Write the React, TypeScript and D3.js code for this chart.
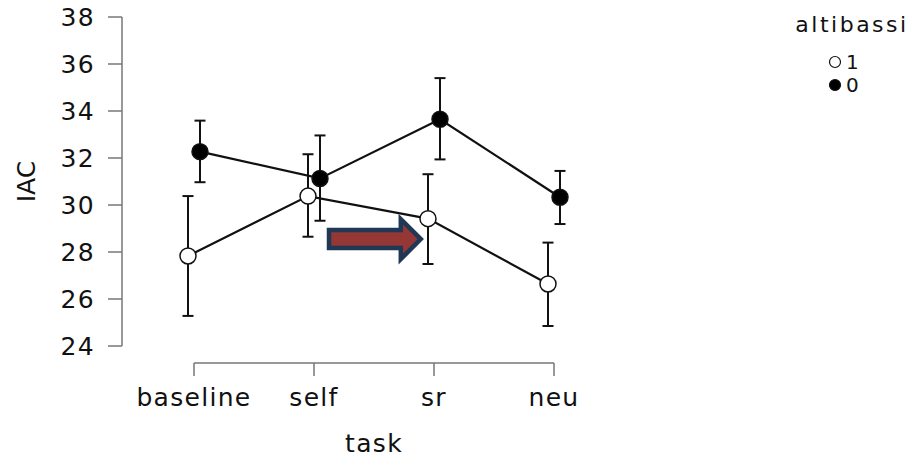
import React from "react";
import * as d3 from "d3";

const tasks = ["baseline", "self", "sr", "neu"];
const yTicks = [24, 26, 28, 30, 32, 34, 36, 38];
const groupLabels = ["1", "0"];
// altibassi = 1 (open)
const mean1 = [27.83, 30.38, 29.42, 26.64];
const lo1 = [25.28, 28.65, 27.49, 24.85];
const hi1 = [30.38, 32.16, 31.31, 28.4];
// altibassi = 0 (filled)
const mean0 = [32.27, 31.13, 33.65, 30.33];
const lo0 = [30.97, 29.33, 31.94, 29.19];
const hi0 = [33.59, 32.96, 35.4, 31.45];
// annotation arrow (task index units, IAC units)
const arrowFrom = 1.125;
const arrowTo = 1.89;
const arrowY = 28.55;

const FONT = "'DejaVu Sans', sans-serif";

export default function App() {
  const W = 914, H = 459;
  const x = d3.scaleLinear().domain([0, 3]).range([194, 554]);
  const y = d3.scaleLinear().domain([24, 38]).range([346, 17]);
  const dodge = 6;

  const series = [
    { name: groupLabels[0], mean: mean1, lo: lo1, hi: hi1, fill: "#fff", off: -dodge },
    { name: groupLabels[1], mean: mean0, lo: lo0, hi: hi0, fill: "#000", off: dodge },
  ];

  const line = d3.line<number>().x((_, i) => x(i)).y((d) => y(d));

  const ax0 = x(arrowFrom), ax1 = x(arrowTo), ay = y(arrowY);
  const headLen = 20, bodyH = 9, headH = 20;
  const arrowPts = [
    [ax0, ay - bodyH], [ax1 - headLen, ay - bodyH], [ax1 - headLen, ay - headH],
    [ax1, ay], [ax1 - headLen, ay + headH], [ax1 - headLen, ay + bodyH], [ax0, ay + bodyH],
  ];

  const axisColor = "#777";
  const textColor = "#111";

  return (
    <svg width={W} height={H} style={{ position: "absolute", left: 0, top: 0, background: "#fff" }}
      fontFamily={FONT}>
      {/* y axis */}
      <line x1={122} x2={122} y1={y(38)} y2={y(24)} stroke={axisColor} strokeWidth={1.5} />
      {yTicks.map((t) => (
        <g key={t}>
          <line x1={108} x2={122} y1={y(t)} y2={y(t)} stroke={axisColor} strokeWidth={1.5} />
          <text x={95} y={y(t)} dy="0.36em" textAnchor="end" fontSize={25} letterSpacing={1.3} fill={textColor}>{t}</text>
        </g>
      ))}
      <text transform={`translate(35,${y(31)}) rotate(-90)`} textAnchor="middle" fontSize={25} fill={textColor}>IAC</text>

      {/* x axis */}
      <line x1={x(0)} x2={x(3)} y1={363} y2={363} stroke={axisColor} strokeWidth={1.5} />
      {tasks.map((t, i) => (
        <g key={t}>
          <line x1={x(i)} x2={x(i)} y1={363} y2={376} stroke={axisColor} strokeWidth={1.5} />
          <text x={x(i)} y={406} textAnchor="middle" fontSize={25} letterSpacing={1.3} fill={textColor}>{t}</text>
        </g>
      ))}
      <text x={374} y={452} textAnchor="middle" fontSize={25} letterSpacing={1.3} fill={textColor}>task</text>

      {/* series */}
      {series.map((s) => (
        <g key={s.name} transform={`translate(${s.off},0)`}>
          <path d={line(s.mean) || ""} fill="none" stroke="#111" strokeWidth={2.2} />
          {s.mean.map((_, i) => (
            <g key={i}>
              <line x1={x(i)} x2={x(i)} y1={y(s.lo[i])} y2={y(s.hi[i])} stroke="#111" strokeWidth={2} />
              <line x1={x(i) - 5.5} x2={x(i) + 5.5} y1={y(s.lo[i])} y2={y(s.lo[i])} stroke="#111" strokeWidth={2} />
              <line x1={x(i) - 5.5} x2={x(i) + 5.5} y1={y(s.hi[i])} y2={y(s.hi[i])} stroke="#111" strokeWidth={2} />
            </g>
          ))}
        </g>
      ))}
      {series.map((s) => (
        <g key={s.name + "p"} transform={`translate(${s.off},0)`}>
          {s.mean.map((m, i) => (
            <circle key={i} cx={x(i)} cy={y(m)} r={8} fill={s.fill} stroke="#111" strokeWidth={1.5} />
          ))}
        </g>
      ))}

      {/* arrow annotation */}
      <polygon points={arrowPts.map((p) => p.join(",")).join(" ")} fill="#953735" stroke="#1F3855" strokeWidth={4.5} strokeLinejoin="miter" />

      {/* legend */}
      <text x={852} y={32} textAnchor="middle" fontSize={22} letterSpacing={2.5} fill={textColor}>altibassi</text>
      {series.map((s, i) => (
        <g key={s.name + "l"}>
          <circle cx={835} cy={62 + i * 23} r={5.5} fill={s.fill} stroke="#111" strokeWidth={1.2} />
          <text x={846} y={62 + i * 23} dy="0.36em" fontSize={20} fill={textColor}>{s.name}</text>
        </g>
      ))}
    </svg>
  );
}
